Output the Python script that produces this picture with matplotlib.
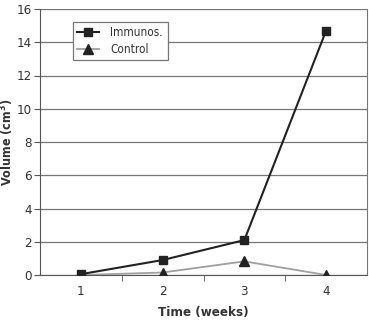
import matplotlib
matplotlib.use("Agg")
import matplotlib.pyplot as plt
from matplotlib.ticker import FixedLocator

weeks = [1, 2, 3, 4]
immunos = [0.05, 0.9, 2.1, 14.7]
control = [0.0, 0.15, 0.82, 0.0]
yticks = [0, 2, 4, 6, 8, 10, 12, 14, 16]

plt.rcParams['font.family'] = ['DejaVu Sans']
plt.rcParams['font.stretch'] = 'condensed'

fig = plt.figure(figsize=(3.69, 3.2), dpi=100)
ax = fig.add_axes([40/369, 1 - 275/320, (367-40)/369, (275-9)/320])

for y in yticks:
    ax.axhline(y, color='#777777', lw=0.9, zorder=1)

ax.plot(weeks, control, color='#a0a0a0', lw=1.3, marker='^', ms=6.5, mfc='#222222', mec='#222222', label='Control', zorder=3)
ax.plot(weeks, immunos, color='#222222', lw=1.5, marker='s', ms=6.3, mfc='#222222', mec='#222222', label='Immunos.', zorder=4)

ax.set_xlim(0.5, 4.5)
ax.set_ylim(0, 16)
ax.set_xticks(weeks)
ax.xaxis.set_minor_locator(FixedLocator([1.5, 2.5, 3.5]))
ax.tick_params(axis='x', which='major', length=0, pad=7, labelsize=9.5, labelcolor='#333333')
ax.tick_params(axis='x', which='minor', length=4, color='#555555', direction='out')
ax.set_yticks(yticks)
ax.tick_params(axis='y', length=4, color='#555555', labelsize=9.5, labelcolor='#333333', pad=2)

for s in ['left', 'bottom']:
    ax.spines[s].set_color('#555555')
ax.spines['right'].set_color('#777777')
ax.spines['top'].set_visible(False)

ax.set_ylabel('Volume (cm$^\\mathbf{3}$)', fontsize=9, fontweight='bold', color='#333333', labelpad=0)
ax.set_xlabel('Time (weeks)', fontsize=9.5, fontweight='bold', color='#333333', labelpad=6)

h, l = ax.get_legend_handles_labels()
leg = ax.legend(h[::-1], l[::-1], loc='upper left', bbox_to_anchor=(0.1, 0.953), borderaxespad=0,
                fontsize=8.5, frameon=True, fancybox=False, edgecolor='#777777', framealpha=1,
                handlelength=1.8, borderpad=0.4, labelspacing=0.3, handletextpad=1.0)
leg.get_frame().set_linewidth(0.9)
for t in leg.get_texts():
    t.set_color('#333333')

fig.savefig('out.png', dpi=100)
